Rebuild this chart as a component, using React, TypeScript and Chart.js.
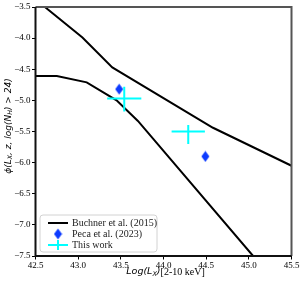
import React, { useEffect, useRef } from 'react';
import { Chart, registerables } from 'chart.js';

Chart.register(...registerables);

// ---- data ----
const xTicks = [42.5, 43.0, 43.5, 44.0, 44.5, 45.0, 45.5];
const yTicks = [-7.5, -7.0, -6.5, -6.0, -5.5, -5.0, -4.5, -4.0, -3.5];

const buchnerUpperX = [42.61, 43.05, 43.4, 44.58, 45.5];
const buchnerUpperY = [-3.5, -3.99, -4.47, -5.44, -6.05];
const buchnerLowerX = [42.5, 42.75, 43.1, 43.45, 43.7, 45.05];
const buchnerLowerY = [-4.61, -4.61, -4.71, -5.0, -5.33, -7.5];

const pecaX = [43.48, 44.49];
const pecaY = [-4.82, -5.9];

const thisWorkX = [43.54, 44.29];
const thisWorkY = [-4.97, -5.5];
const thisWorkXErr = [0.2, 0.195];
const thisWorkYErrLow = [0.21, 0.2];
const thisWorkYErrHigh = [0.19, 0.105];

const legendLabels = ['Buchner et al. (2015)', 'Peca et al. (2023)', 'This work'];

const CYAN = '#00ffff';
const BLUE = '#0d3bff';
const SERIF = '"Liberation Serif", "Times New Roman", serif';
const SANS = '"DejaVu Sans", sans-serif';

type Seg = { t: string; font: string; dy?: number };

function drawRich(ctx: CanvasRenderingContext2D, segs: Seg[], cx: number, cy: number) {
  let total = 0;
  const widths = segs.map((s) => {
    ctx.font = s.font;
    const w = ctx.measureText(s.t).width;
    total += w;
    return w;
  });
  let x = cx - total / 2;
  ctx.textBaseline = 'middle';
  ctx.textAlign = 'left';
  segs.forEach((s, i) => {
    ctx.font = s.font;
    ctx.fillText(s.t, x, cy + (s.dy || 0));
    x += widths[i];
  });
}

function makeDiamond(): HTMLCanvasElement {
  const c = document.createElement('canvas');
  c.width = 9;
  c.height = 12;
  const g = c.getContext('2d')!;
  g.fillStyle = BLUE;
  g.beginPath();
  g.moveTo(4.5, 0.5);
  g.lineTo(8.5, 6);
  g.lineTo(4.5, 11.5);
  g.lineTo(0.5, 6);
  g.closePath();
  g.fill();
  return c;
}

export default function App() {
  const ref = useRef<HTMLCanvasElement | null>(null);

  useEffect(() => {
    if (!ref.current) return;
    const diamond = makeDiamond();

    const errorBars = {
      id: 'errorBars',
      afterDatasetsDraw(chart: any) {
        const { ctx, scales } = chart;
        const xs = scales.x;
        const ys = scales.y;
        ctx.save();
        ctx.strokeStyle = CYAN;
        ctx.lineWidth = 2;
        thisWorkX.forEach((xv, i) => {
          const yv = thisWorkY[i];
          const px = xs.getPixelForValue(xv);
          const py = ys.getPixelForValue(yv);
          ctx.beginPath();
          ctx.moveTo(xs.getPixelForValue(xv - thisWorkXErr[i]), py);
          ctx.lineTo(xs.getPixelForValue(xv + thisWorkXErr[i]), py);
          ctx.moveTo(px, ys.getPixelForValue(yv + thisWorkYErrHigh[i]));
          ctx.lineTo(px, ys.getPixelForValue(yv - thisWorkYErrLow[i]));
          ctx.stroke();
        });
        ctx.restore();
      },
    };

    const decorations = {
      id: 'decorations',
      afterDraw(chart: any) {
        const { ctx, chartArea: a } = chart;
        ctx.save();
        // spines
        ctx.lineWidth = 2;
        ctx.strokeStyle = '#555';
        ctx.beginPath();
        ctx.moveTo(a.left, a.top);
        ctx.lineTo(a.right, a.top);
        ctx.lineTo(a.right, a.bottom);
        ctx.stroke();
        ctx.strokeStyle = '#111';
        ctx.beginPath();
        ctx.moveTo(a.left, a.top);
        ctx.lineTo(a.left, a.bottom);
        ctx.lineTo(a.right, a.bottom);
        ctx.stroke();

        // legend
        const lx = 40, ly = 215, lw = 117, lh = 37, r = 3;
        ctx.beginPath();
        ctx.moveTo(lx + r, ly);
        ctx.lineTo(lx + lw - r, ly);
        ctx.arcTo(lx + lw, ly, lx + lw, ly + r, r);
        ctx.lineTo(lx + lw, ly + lh - r);
        ctx.arcTo(lx + lw, ly + lh, lx + lw - r, ly + lh, r);
        ctx.lineTo(lx + r, ly + lh);
        ctx.arcTo(lx, ly + lh, lx, ly + lh - r, r);
        ctx.lineTo(lx, ly + r);
        ctx.arcTo(lx, ly, lx + r, ly, r);
        ctx.closePath();
        ctx.fillStyle = 'rgba(255,255,255,0.85)';
        ctx.fill();
        ctx.strokeStyle = '#d2d2d2';
        ctx.lineWidth = 1;
        ctx.stroke();

        const rows = [223, 234, 245];
        // Buchner handle
        ctx.strokeStyle = '#000';
        ctx.lineWidth = 2;
        ctx.beginPath();
        ctx.moveTo(48, rows[0]);
        ctx.lineTo(68, rows[0]);
        ctx.stroke();
        // Peca handle
        ctx.drawImage(diamond, 58 - 4.5, rows[1] - 6);
        // This work handle
        ctx.strokeStyle = CYAN;
        ctx.beginPath();
        ctx.moveTo(48, rows[2]);
        ctx.lineTo(68, rows[2]);
        ctx.moveTo(58, rows[2] - 5);
        ctx.lineTo(58, rows[2] + 5);
        ctx.stroke();

        ctx.fillStyle = '#222';
        ctx.font = `10px ${SERIF}`;
        ctx.textAlign = 'left';
        ctx.textBaseline = 'middle';
        legendLabels.forEach((t, i) => ctx.fillText(t, 72, rows[i] + 0.5));

        // axis titles
        ctx.fillStyle = '#000';
        const it = `italic 9px ${SANS}`;
        const sub = `italic 6.3px ${SANS}`;
        ctx.save();
        ctx.translate(8.5, 126);
        ctx.rotate(-Math.PI / 2);
        drawRich(
          ctx,
          [
            { t: 'ϕ(L', font: it },
            { t: 'X', font: sub, dy: 2 },
            { t: ', z, log(N', font: it },
            { t: 'H', font: sub, dy: 2 },
            { t: ') > 24)', font: it },
          ],
          0,
          0
        );
        ctx.restore();

        drawRich(
          ctx,
          [
            { t: 'Log(L', font: `italic 9.5px ${SANS}` },
            { t: 'X', font: `italic 6.5px ${SANS}`, dy: 2 },
            { t: ')', font: `italic 9.5px ${SANS}` },
            { t: '[2-10 keV]', font: `10px ${SERIF}` },
          ],
          165.5,
          272
        );
        ctx.restore();
      },
    };

    const tickFont = { family: SERIF, size: 9 };
    const fmt = (v: any) => Number(v).toFixed(1).replace('-', '\u2212');

    const chart = new Chart(ref.current, {
      type: 'scatter',
      data: {
        datasets: [
          {
            label: legendLabels[0],
            data: buchnerUpperX.map((x, i) => ({ x, y: buchnerUpperY[i] })),
            showLine: true,
            borderColor: '#000',
            borderWidth: 2,
            pointRadius: 0,
            fill: false,
          },
          {
            label: legendLabels[0],
            data: buchnerLowerX.map((x, i) => ({ x, y: buchnerLowerY[i] })),
            showLine: true,
            borderColor: '#000',
            borderWidth: 2,
            pointRadius: 0,
            fill: false,
          },
          {
            label: legendLabels[1],
            data: pecaX.map((x, i) => ({ x, y: pecaY[i] })),
            pointStyle: diamond as any,
            pointRadius: 5,
            backgroundColor: BLUE,
            borderColor: BLUE,
          },
          {
            label: legendLabels[2],
            data: thisWorkX.map((x, i) => ({ x, y: thisWorkY[i] })),
            pointRadius: 0,
            backgroundColor: CYAN,
            borderColor: CYAN,
          },
        ],
      },
      options: {
        responsive: false,
        animation: false,
        devicePixelRatio: 1,
        layout: { padding: { top: 7, right: 10.5, left: 0, bottom: 0 } },
        plugins: { legend: { display: false }, tooltip: { enabled: false } },
        scales: {
          x: {
            type: 'linear',
            min: 42.5,
            max: 45.5,
            afterBuildTicks: (s: any) => {
              s.ticks = xTicks.map((value) => ({ value }));
            },
            afterFit: (s: any) => {
              s.height = 26;
            },
            grid: { display: true, drawOnChartArea: false, drawTicks: true, tickLength: 3.5, color: '#000', lineWidth: 1 },
            border: { display: false },
            ticks: { font: tickFont, color: '#000', padding: 0.5, maxRotation: 0, autoSkip: false, callback: fmt },
          },
          y: {
            type: 'linear',
            min: -7.5,
            max: -3.5,
            afterBuildTicks: (s: any) => {
              s.ticks = yTicks.map((value) => ({ value }));
            },
            afterFit: (s: any) => {
              s.width = 35.5;
            },
            grid: { display: true, drawOnChartArea: false, drawTicks: true, tickLength: 3.5, color: '#000', lineWidth: 1 },
            border: { display: false },
            ticks: { font: tickFont, color: '#000', padding: 1.5, autoSkip: false, callback: fmt },
          },
        },
      } as any,
      plugins: [errorBars, decorations],
    });

    return () => chart.destroy();
  }, []);

  return (
    <div style={{ position: 'absolute', left: 0, top: 0, width: 302, height: 282, background: '#fff' }}>
      <canvas ref={ref} width={302} height={282} style={{ display: 'block' }} />
    </div>
  );
}
